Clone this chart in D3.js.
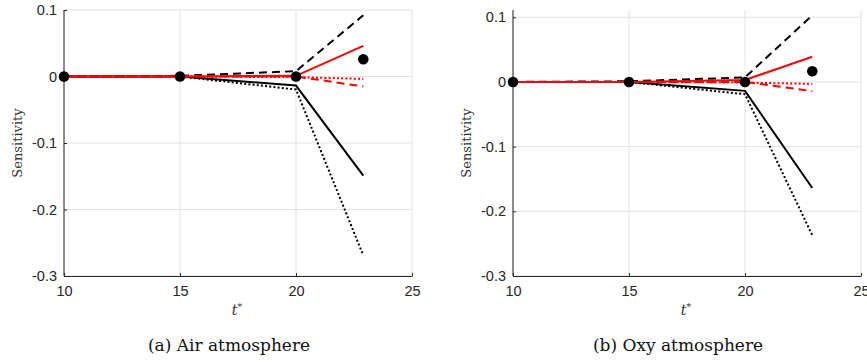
<!doctype html>
<html>
  <head>
    <meta charset="utf-8">
    <title>Sensitivity</title>
    <script src="https://d3js.org/d3.v7.min.js"></script>
    <style>
      body { margin: 0; background: #fff; }
    </style>
  </head>
  <body>
    <script>
      // time points (t*)
      const tStar = [10, 15, 20, 22.9];
      const xTicks = [10, 15, 20, 25];
      const yTicks = [0.1, 0, -0.1, -0.2, -0.3];

      // (a) air atmosphere
      const airBlackSolid  = [0, 0, -0.0136, -0.149];
      const airBlackDotted = [0, 0, -0.0196, -0.269];
      const airBlackDashed = [0, 0.001, 0.008, 0.092];
      const airRedSolid    = [0, 0, 0.001, 0.046];
      const airRedDotted   = [0, 0, -0.001, -0.0036];
      const airRedDashed   = [0, 0, 0, -0.015];
      const airDots        = [0, 0, 0, 0.026];

      // (b) oxy atmosphere
      const oxyBlackSolid  = [0, 0, -0.0138, -0.164];
      const oxyBlackDotted = [0, 0, -0.019, -0.237];
      const oxyBlackDashed = [0, 0.001, 0.007, 0.103];
      const oxyRedSolid    = [0, 0, 0.003, 0.039];
      const oxyRedDotted   = [0, 0, -0.001, -0.003];
      const oxyRedDashed   = [0, 0, 0, -0.0143];
      const oxyDots        = [0, 0, 0, 0.0165];

      const panels = [
        {
          caption: '(a) Air atmosphere', left: 64, right: 412, top: 10, bottom: 276,
          yMax: 0.1,
          series: [airBlackDotted, airBlackSolid, airBlackDashed, airRedDotted, airRedDashed, airRedSolid],
          dots: airDots
        },
        {
          caption: '(b) Oxy atmosphere', left: 513, right: 861, top: 10, bottom: 276,
          yMax: 0.1112,
          series: [oxyBlackDotted, oxyBlackSolid, oxyBlackDashed, oxyRedDotted, oxyRedDashed, oxyRedSolid],
          dots: oxyDots
        }
      ];

      // style per series index
      const styles = [
        { color: '#000', dash: '2,2.2' },
        { color: '#000', dash: null },
        { color: '#000', dash: '8,5' },
        { color: '#ff0000', dash: '2,2.2' },
        { color: '#ff0000', dash: '8,5' },
        { color: '#ff0000', dash: null }
      ];

      const svg = d3.select('body').append('svg')
          .attr('width', 867)
          .attr('height', 362);

      const fmt = d => d === 0 ? '0' : String(d);

      panels.forEach(p => {
        const x = d3.scaleLinear().domain([10, 25]).range([p.left, p.right]);
        const y = d3.scaleLinear().domain([-0.3, p.yMax]).range([p.bottom, p.top]);
        const g = svg.append('g');

        // grid
        g.append('g').selectAll('line')
          .data(xTicks)
          .join('line')
            .attr('x1', d => x(d)).attr('x2', d => x(d))
            .attr('y1', p.top).attr('y2', p.bottom)
            .attr('stroke', '#e3e3e3').attr('stroke-width', 1);
        g.append('g').selectAll('line')
          .data(yTicks)
          .join('line')
            .attr('x1', p.left).attr('x2', p.right)
            .attr('y1', d => y(d)).attr('y2', d => y(d))
            .attr('stroke', '#e3e3e3').attr('stroke-width', 1);

        // axes
        const xAxis = g.append('g')
            .attr('transform', `translate(0,${p.bottom})`)
            .call(d3.axisBottom(x).tickValues(xTicks).tickFormat(fmt).tickSizeInner(-3).tickSizeOuter(0).tickPadding(10));
        const yAxis = g.append('g')
            .attr('transform', `translate(${p.left},0)`)
            .call(d3.axisLeft(y).tickValues(yTicks).tickFormat(fmt).tickSizeInner(-3).tickSizeOuter(0).tickPadding(7));
        [xAxis, yAxis].forEach(a => {
          a.select('.domain').attr('stroke', '#262626').attr('stroke-width', 1);
          a.selectAll('.tick line').attr('stroke', '#262626');
          a.selectAll('text')
            .attr('fill', '#262626')
            .style('font-family', '"Liberation Sans", Arial, sans-serif')
            .style('font-size', '14.5px');
        });
        yAxis.select('.domain').attr('d', `M0,${p.bottom}V${p.top}`);

        // lines
        const line = d3.line()
            .x((d, i) => x(tStar[i]))
            .y(d => y(d));
        p.series.forEach((s, i) => {
          g.append('path')
              .datum(s)
              .attr('d', line)
              .attr('fill', 'none')
              .attr('stroke', styles[i].color)
              .attr('stroke-width', 2)
              .attr('stroke-dasharray', styles[i].dash);
        });

        // markers
        g.append('g').selectAll('circle')
          .data(p.dots)
          .join('circle')
            .attr('cx', (d, i) => x(tStar[i]))
            .attr('cy', d => y(d))
            .attr('r', 5.3)
            .attr('fill', '#000');

        // labels
        const cx = (p.left + p.right) / 2;
        g.append('text')
            .attr('transform', `translate(${p.left - 42},${(p.top + p.bottom) / 2}) rotate(-90)`)
            .attr('text-anchor', 'middle')
            .attr('fill', '#333')
            .style('font-family', '"DejaVu Serif", serif')
            .style('font-size', '13px')
            .text('Sensitivity');
        const tl = g.append('text')
            .attr('x', cx - 1)
            .attr('y', 315)
            .attr('text-anchor', 'middle')
            .attr('fill', '#333')
            .style('font-family', '"DejaVu Serif", serif')
            .style('font-style', 'italic')
            .style('font-size', '14px');
        tl.append('tspan').text('t');
        tl.append('tspan').attr('dy', -5).style('font-size', '10px').style('font-style', 'normal').text('*');
        g.append('text')
            .attr('x', cx - 9)
            .attr('y', 351)
            .attr('text-anchor', 'middle')
            .attr('fill', '#111')
            .style('font-family', '"DejaVu Serif", serif')
            .style('font-size', '17px')
            .text(p.caption);
      });
    </script>
  </body>
</html>
